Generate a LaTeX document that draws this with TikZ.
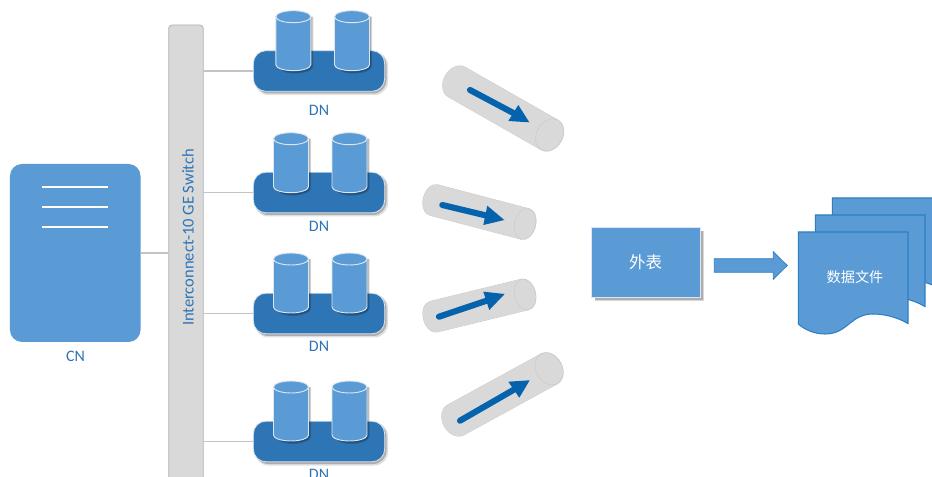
\documentclass[tikz,border=0pt]{standalone}
\usepackage{fontspec}
\setmainfont{Carlito}
\newfontfamily\cjk{Noto Sans CJK SC}
\definecolor{lightblue}{HTML}{5B9BD5}
\definecolor{darkblue}{HTML}{2E75B6}
\definecolor{edgeblue}{HTML}{2E7FC2}
\definecolor{arrowblue}{HTML}{0563AE}
\definecolor{panelgray}{HTML}{D9D9D9}
\definecolor{panelline}{HTML}{B5B5B5}
\definecolor{linkgray}{HTML}{C4C4C4}
\definecolor{softedge}{HTML}{DCE6F0}
\tikzset{
  x=0.75pt,y=-0.75pt,
  link/.style={draw=linkgray,line width=1pt},
  label/.style={text=darkblue,font=\fontsize{12}{14}\selectfont,inner sep=0pt},
  cnbox/.style={fill=lightblue,rounded corners=9pt,minimum width=97.9pt,minimum height=133.5pt,inner sep=0pt},
  switchbox/.style={fill=panelgray,draw=panelline,line width=0.6pt,rounded corners=2.5pt,minimum width=26pt,minimum height=360pt,inner sep=0pt},
  basebox/.style={fill=darkblue,draw=softedge,line width=0.6pt,rounded corners=9.5pt,minimum width=98.5pt,minimum height=30.5pt,inner sep=0pt},
  tablebox/.style={fill=lightblue,draw=softedge,line width=0.5pt,minimum width=81.5pt,minimum height=53pt,inner sep=0pt},
  whitetext/.style={text=white,inner sep=0pt},
}
% soft drop shadow of a rounded box: centre x, centre y
\newcommand{\baseshadow}[2]{%
  \fill[black,opacity=.12,rounded corners=10pt] (#1-64,#2-19) rectangle (#1+69,#2+24);
  \fill[black,opacity=.22,rounded corners=10pt] (#1-64,#2-19) rectangle (#1+67.5,#2+22.5);
}
% cylinder: centre x, y of the centre of the top ellipse
\newcommand{\cyl}[2]{%
  \begin{scope}[shift={(#1,#2)}]
    \fill[black,opacity=.15] (-14,0) -- (20,0) -- (20,50) .. controls (20,54) and (10,57) .. (2,57) .. controls (-8,57) and (-14,54) .. (-14,50) -- cycle;
    \fill[black,opacity=.2] (-14,0) -- (19,0) -- (19,49.5) .. controls (19,53) and (10,56) .. (1.5,56) .. controls (-8,56) and (-14,53) .. (-14,49.5) -- cycle;
    \path[fill=lightblue,draw=softedge,line width=0.7pt] (-17.5,0) -- (-17.5,48) .. controls (-17.5,51.31) and (-9.66,54) .. (0,54) .. controls (9.66,54) and (17.5,51.31) .. (17.5,48) -- (17.5,0) .. controls (17.5,-3.31) and (9.66,-6) .. (0,-6) .. controls (-9.66,-6) and (-17.5,-3.31) .. (-17.5,0) -- cycle;
    \draw[softedge,line width=0.7pt] (-17.5,0) .. controls (-17.5,3.31) and (-9.66,6) .. (0,6) .. controls (9.66,6) and (17.5,3.31) .. (17.5,0);
  \end{scope}}
% tube: left centre x,y; angle; length; radius; end semi-minor
\newcommand{\tube}[6]{%
  \begin{scope}[shift={(#1,#2)},rotate=#3]
    \fill[panelline!70!white] (0,0) ellipse [x radius=#6+.4,y radius=#5+.4];
    \fill[panelline!70!white] (#4,0) ellipse [x radius=#6+.4,y radius=#5+.4];
    \fill[panelline!70!white] (0,-#5-.4) rectangle (#4,#5+.4);
    \fill[panelgray] (0,0) ellipse [x radius=#6,y radius=#5];
    \fill[panelgray] (0,-#5) rectangle (#4,#5);
    \fill[panelgray] (#4,0) ellipse [x radius=#6,y radius=#5];
    \draw[panelline!70!white,line width=0.4pt] (#4,0) ellipse [x radius=#6,y radius=#5];
  \end{scope}}
% flow arrow inside a tube: name, tail, neck, head corner 1, head corner 2, tip
\newcommand{\flowarrow}[6]{%
  \coordinate (#1tail) at (#2);
  \coordinate (#1neck) at (#3);
  \draw[arrowblue,line width=4.6pt,line cap=round] (#1tail) -- (#1neck);
  \fill[arrowblue] (#4) -- (#6) -- (#5) -- cycle;
}
% document sheet: x and y shift
\newcommand{\sheet}[2]{%
  \begin{scope}[shift={(#1,#2)}]
    \path[fill=lightblue,draw=edgeblue,line width=0.8pt] (798.3,232) -- (908,232) -- (908,323.5) .. controls (895,316) and (882,314) .. (873,314) .. controls (850,314) and (848,334) .. (825,334) .. controls (815,334) and (805,330) .. (798.3,324) -- cycle;
  \end{scope}}
\begin{document}
\begin{tikzpicture}
\clip (0,0) rectangle (932,477);
\fill[white] (0,0) rectangle (932,477);

% CN
\node[cnbox] (cn) at (75.25,253) {};
\foreach \yy in {187,207,227}
  \draw[white,line width=1pt] (42,\yy) -- (108,\yy);
\node[label] (cnlabel) at (75.5,356.5) {CN};

% Switch
\node[switchbox] (sw) at (186,265) {};
\node[label,font=\fontsize{12.4}{14}\selectfont,rotate=90] (swlabel) at (188,237.5) {Interconnect-10 GE Switch};

\draw[link] (cn.east) -- (cn.east -| sw.west);

% DN groups
\baseshadow{319}{71}
\node[basebox] (dna) at (319,71) {};
\baseshadow{319}{192.5}
\node[basebox] (dnb) at (319,192.5) {};
\baseshadow{319}{313.5}
\node[basebox] (dnc) at (319,313.5) {};
\baseshadow{319}{441.5}
\node[basebox] (dnd) at (319,441.5) {};

\draw[link] (dna.west -| sw.east) -- (dna.west);
\draw[link] (dnb.west -| sw.east) -- (dnb.west);
\draw[link] (dnc.west -| sw.east) -- (dnc.west);
\draw[link] (dnd.west -| sw.east) -- (dnd.west);

\cyl{293.3}{16.7}\cyl{352}{16.7}
\cyl{291}{138.7}\cyl{349.5}{138.7}
\cyl{291}{259}\cyl{349.5}{259}
\cyl{291}{387}\cyl{349.5}{387}

\node[label] (dnalabel) at (319,110.5) {DN};
\node[label] (dnblabel) at (319,226.5) {DN};
\node[label] (dnclabel) at (319,346.5) {DN};
\node[label] (dndlabel) at (319,474) {DN};

% Tubes
\tube{456.7}{82}{-29.7}{107}{17}{13}
\tube{433.7}{200}{-14.7}{94.5}{15.7}{10.5}
\tube{433.7}{316.7}{13.7}{94}{15.7}{10.5}
\tube{455.7}{420}{28.7}{106.5}{17}{13}

\flowarrow{ta}{470,90}{513.3,113}{518.3,105}{508.3,121}{529.3,122.3}
\flowarrow{tb}{442.3,205}{485.3,215.3}{487.3,205.7}{483.3,225}{504.3,220}
\flowarrow{tc}{439,316.7}{486.3,300.8}{483.3,291.7}{489.3,310}{504.7,294}
\flowarrow{td}{460,420.7}{513.8,389.7}{508.3,381.7}{519.3,397.7}{529.7,380.3}

% External table
\fill[black,opacity=.15] (595,231) rectangle (703.5,301.5);
\fill[black,opacity=.2] (595,231) rectangle (702.5,300);
\node[tablebox] (tbl) at (645.7,262.3) {};
\node[whitetext,font=\cjk\fontsize{12.4}{14}\selectfont] (tbllabel) at (tbl) {外表};

% Block arrow
\path[fill=lightblue,draw=edgeblue,line width=0.5pt] (714.3,258.7) -- (773.3,258.7) -- (773.3,251.7) -- (787.3,265.5) -- (773.3,279.3) -- (773.3,272.3) -- (714.3,272.3) -- cycle;

% Data files
\sheet{34}{-34}
\sheet{17}{-17}
\sheet{0}{0}
\node[whitetext,font=\cjk\fontsize{10.6}{13}\selectfont] (files) at (855,277) {数据文件};
\end{tikzpicture}
\end{document}
